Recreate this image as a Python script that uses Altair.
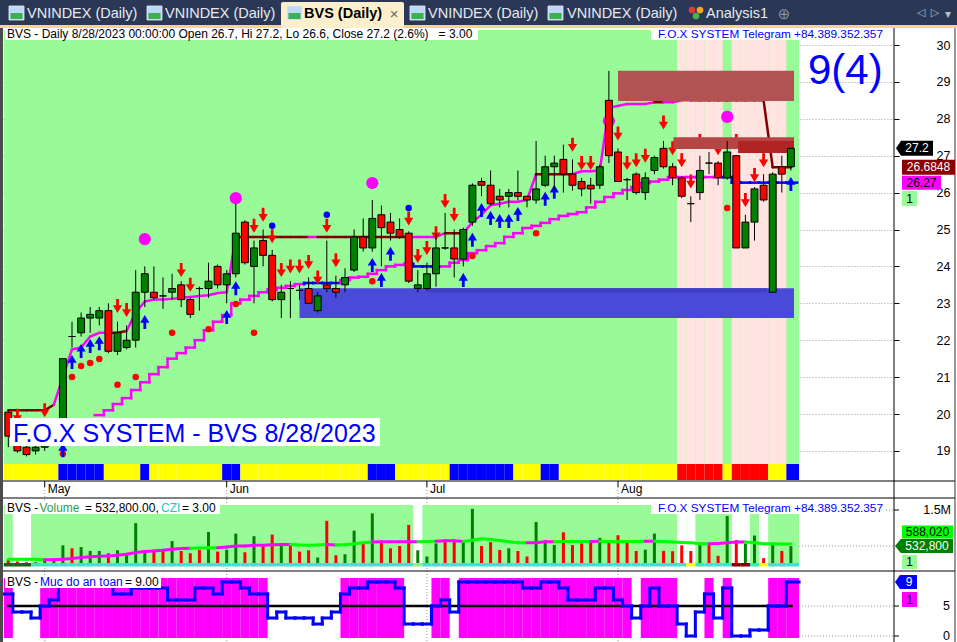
import altair as alt
import pandas as pd

FONT = "Liberation Sans"

# ---------------- daily OHLC of BVS (thousand VND) ----------------
OPEN = [20.05, 19.3, 19.1, 19.0, 19.1, 19.4, 19.6, 22.1, 22.2, 22.6,
        22.6, 22.8, 21.7, 21.8, 22.0, 23.3, 23.3, 23.2, 23.3, 23.5,
        23.1, 23.4, 23.4, 24.0, 23.5, 23.8, 25.2, 24.0, 24.7, 24.3,
        23.1, 23.4, 23.35, 23.4, 22.8, 23.5, 23.4, 23.5, 23.9, 24.8,
        24.5, 25.4, 25.2, 25.0, 24.9, 23.4, 23.4, 23.8, 24.5, 24.5,
        24.2, 25.2, 26.3, 26.2, 25.9, 25.9, 26.0, 25.9, 25.8, 26.2,
        26.7, 26.9, 26.5, 26.3, 26.2, 26.2, 28.5, 27.1, 26.35, 26.5,
        26.0, 26.6, 27.2, 26.7, 26.4, 25.7, 26.0, 26.8, 26.8, 26.4,
        27.0, 24.5, 25.2, 26.2, 23.3, 26.7, 26.7]
HIGH = [20.1, 19.5, 19.2, 19.2, 19.5, 19.6, 21.5, 22.5, 22.75, 22.9,
        22.9, 23.0, 22.5, 22.4, 23.9, 24.0, 24.0, 23.7, 23.8, 23.6,
        23.15, 23.45, 24.1, 24.05, 23.9, 25.7, 25.25, 24.7, 25.0, 24.45,
        23.5, 23.6, 23.5, 23.7, 23.3, 24.7, 23.75, 23.95, 25.0, 25.3,
        25.8, 25.65, 25.45, 25.3, 24.95, 23.9, 24.1, 24.9, 25.45, 25.0,
        25.05, 26.25, 26.4, 26.6, 26.1, 26.1, 26.6, 25.9, 27.4, 27.0,
        27.0, 27.3, 26.9, 26.4, 26.4, 26.75, 29.3, 27.2, 26.4, 26.55,
        26.55, 27.0, 27.4, 26.8, 26.45, 25.9, 27.0, 27.1, 26.85, 27.4,
        27.0, 25.4, 26.15, 26.5, 26.55, 27.0, 27.2]
LOW = [19.1, 18.95, 18.85, 18.9, 19.0, 19.3, 19.5, 21.8, 22.1, 22.2,
       22.4, 21.65, 21.6, 21.75, 21.8, 22.9, 23.1, 22.85, 23.1, 22.9,
       22.6, 22.8, 23.15, 23.4, 23.0, 23.7, 24.05, 23.0, 24.0, 23.05,
       22.6, 22.6, 23.1, 23.0, 22.75, 23.3, 23.15, 23.3, 23.85, 24.4,
       24.4, 24.0, 24.7, 24.75, 23.55, 23.3, 23.35, 23.45, 24.45, 23.7,
       24.0, 25.1, 25.9, 25.65, 25.6, 25.6, 25.8, 25.6, 25.7, 26.15,
       26.1, 26.0, 26.05, 25.9, 25.7, 26.1, 26.8, 26.3, 25.8, 25.95,
       25.8, 26.5, 26.65, 26.2, 25.85, 25.2, 25.8, 26.5, 26.2, 26.35,
       24.5, 24.5, 24.7, 25.75, 23.3, 26.0, 26.6]
CLOSE = [19.4, 19.0, 18.9, 19.1, 19.4, 19.5, 21.5, 22.1, 22.6, 22.7,
         22.8, 21.7, 22.2, 22.0, 23.3, 23.8, 23.15, 23.2, 23.4, 23.1,
         22.7, 23.4, 23.6, 23.5, 23.8, 24.9, 24.1, 24.5, 24.3, 23.1,
         23.3, 23.4, 23.35, 23.0, 23.2, 23.4, 23.3, 23.7, 24.8, 24.5,
         25.3, 25.05, 24.9, 24.8, 23.6, 23.5, 23.8, 24.5, 24.5, 24.2,
         25.0, 26.2, 26.2, 25.7, 25.8, 26.0, 25.9, 25.8, 26.1, 26.7,
         26.8, 26.5, 26.2, 26.1, 26.1, 26.7, 27.0, 26.3, 26.35, 26.0,
         26.4, 26.95, 26.7, 26.4, 25.9, 25.7, 26.6, 26.8, 26.4, 27.1,
         24.5, 25.2, 26.1, 25.8, 26.5, 26.5, 27.2]
N = len(CLOSE)
BAR = list(range(N))

MONTHS = ["May", "Jun", "Jul", "Aug"]
MONTH_FIRST_BAR = [4, 24, 46, 67]

# volume (thousand shares) and its moving average
VOLUME_K = [180, 120, 100, 100, 170, 180, 552, 474, 508, 403,
            403, 342, 421, 272, 1150, 421, 403, 403, 667, 403,
            342, 430, 912, 386, 438, 868, 368, 798, 535, 842,
            596, 535, 386, 421, 228, 1210, 289, 316, 947, 623,
            1410, 667, 474, 535, 1100, 421, 254, 605, 684, 667,
            623, 1530, 535, 640, 430, 474, 403, 254, 1180, 684,
            561, 903, 561, 605, 640, 754, 623, 824, 693, 403,
            438, 868, 403, 395, 552, 403, 640, 596, 272, 1340,
            693, 596, 816, 210, 579, 403, 532.8]
VOL_MA_K = [184, 184, 184, 184, 166, 166, 184, 203, 229, 245,
            263, 271, 289, 316, 361, 387, 403, 421, 447, 466,
            474, 482, 492, 492, 508, 534, 534, 553, 553, 571,
            579, 579, 561, 553, 561, 579, 561, 571, 597, 624,
            640, 650, 650, 650, 650, 650, 658, 666, 676, 676,
            658, 692, 729, 711, 684, 650, 624, 624, 624, 650,
            650, 658, 658, 658, 658, 666, 658, 650, 658, 658,
            666, 666, 658, 640, 632, 624, 597, 597, 605, 624,
            640, 640, 624, 597, 597, 590, 588.02]
VOL_MA_FALL_RUNS = [(4, 20), (23, 31), (35, 36), (40, 45), (47, 50),
                    (57, 60), (64, 65), (70, 71), (77, 81)]
VOL_GAP_BARS = [1, 2, 45, 74, 75, 80, 81, 83]
VOL_FOOT = {0: "#1E5E1E", 1: "#1E5E1E", 2: "#1E5E1E", 45: "#90EE90",
            75: "#FFFF00", 80: "#800000", 81: "#800000", 83: "#FFFF00"}

# "Muc do an toan" safety score 0..9
SAFETY = [7, 4, 4, 3, 5, 6, 9, 9, 9, 9,
          9, 9, 7, 7, 8, 8, 8, 8, 6, 6,
          6, 8, 8, 7, 9, 9, 8, 7, 7, 3,
          4, 3, 3, 3, 2, 3, 4, 7, 8, 8,
          9, 9, 9, 8, 2, 2, 2, 5, 6, 4,
          9, 9, 9, 9, 9, 9, 9, 8, 8, 9,
          9, 8, 6, 6, 6, 8, 8, 6, 5, 3,
          5, 8, 5, 5, 2, 0, 4, 7, 3, 8,
          0, 0, 1, 1, 5, 5, 9]

# trailing stop lines
UPPER_STOP = ([20.1] * 5 + [20.25, 21.0, 21.75, 21.8, 22.1, 22.2, 22.2, 22.2, 22.25, 22.75,
               23.05, 23.1, 23.1, 23.12, 23.15, 23.17, 23.2, 23.22, 23.28, 23.3]
              + [24.8] * 23 + [24.9] * 3
              + [25.2, 25.4, 25.66, 25.7, 25.75, 25.75, 25.8] + [26.5] * 5
              + [26.58, 26.58, 26.6, 28.3, 28.35] + [28.4] * 3 + [28.45] * 3
              + [28.5] * 10 + [26.6848] * 3)
UPPER_RED_RUNS = [(0, 5), (11, 13), (25, 33), (34, 44), (48, 50), (58, 62), (71, 72), (75, 86)]
LOWER_START = 10
LOWER_STOP = [19.97, 20.1, 20.27, 20.43, 20.65, 20.86, 21.08, 21.27, 21.5, 21.65,
              21.8, 22.0, 22.27, 22.5, 22.68, 23.0, 23.1, 23.2, 23.3, 23.37,
              23.42, 23.47, 23.52, 23.55, 23.55, 23.55, 23.55, 23.63, 23.7, 23.72,
              23.8, 23.9, 24.0, 24.04, 24.07, 24.0, 24.0, 24.0, 24.0, 24.1,
              24.17, 24.36, 24.44, 24.55, 24.63, 24.8, 24.9, 25.04, 25.1, 25.18,
              25.28, 25.37, 25.42, 25.47, 25.6, 25.75, 25.88, 25.98, 26.07, 26.15,
              26.26, 26.3, 26.35, 26.42, 26.42, 26.42, 26.42, 26.42, 26.42, 26.42,
              26.27, 26.27, 26.27, 26.27, 26.27, 26.27, 26.27]
LOWER_BLUE_RUNS = [(33, 36), (45, 47), (79, 86)]

# signals
SELL_BARS = [1, 4, 12, 13, 19, 20, 27, 28, 29, 30, 31, 32, 33, 34, 35, 36, 44, 45, 46, 47,
             48, 49, 62, 63, 64, 67, 68, 69, 70, 72, 73, 74, 75, 76, 78, 80, 81, 82, 83]
SELL_LVL = [19.95, 20.1, 22.93, 22.82, 23.9, 23.5, 25.1, 25.4, 24.82, 23.9, 24.0, 24.0, 24.12,
            23.7, 25.1, 24.17, 25.3, 24.28, 24.5, 24.9, 25.77, 25.4, 27.3, 26.8, 26.8, 27.6,
            26.8, 26.88, 27.0, 27.9, 27.2, 26.88, 26.3, 27.4, 27.2, 27.4, 25.8, 26.48, 26.88]
BUY_BARS = [6, 7, 8, 9, 10, 15, 24, 25, 40, 41, 42, 50, 51, 52, 53, 54, 55, 56, 59, 60, 86]
BUY_LVL = [19.02, 21.41, 21.71, 21.84, 21.92, 22.49, 22.63, 23.41, 24.04, 23.63, 24.34,
           23.63, 24.72, 25.53, 25.31, 25.23, 25.23, 25.42, 25.83, 26.02, 26.23]
RED_DOT_BARS = [6, 7, 8, 9, 10, 12, 14, 18, 22, 25, 27, 40, 51, 58, 79]
RED_DOT_LVL = [18.92, 21.0, 21.3, 21.38, 21.49, 20.79, 21.0, 22.2, 22.3, 22.98, 22.2,
               23.6, 24.28, 24.9, 25.58]
BLUE_DOT_BARS = [29, 35, 44]
BLUE_DOT_LVL = [25.1, 25.4, 25.58]
PEAK_BARS = [15, 25, 40, 66, 79]
PEAK_LVL = [24.74, 25.85, 26.26, 27.94, 28.05]

# zones
SUPPORT_ZONE = dict(start=32, end=86.34, lo=22.6, hi=23.41)
SUPPORT_EDGE = dict(start=46, end=83.4, lo=23.29, hi=23.41)
RESIST_START = [67.0, 73.1, 80.2]
RESIST_END = [86.34, 86.34, 86.34]
RESIST_LO = [28.48, 27.18, 27.07]
RESIST_HI = [29.3, 27.5, 27.4]
RESIST_COLOR = ["#B25252", "#B54646", "#B02424"]

PINK_BARS = [74, 75, 76, 77, 78, 80, 81, 82, 83, 84, 85]
STRIP_RUNS = [("Y", 6), ("B", 5), ("Y", 4), ("B", 1), ("Y", 8), ("B", 2), ("Y", 14), ("B", 3),
              ("Y", 6), ("B", 7), ("Y", 3), ("B", 2), ("Y", 13), ("R", 5), ("Y", 1), ("R", 4),
              ("Y", 2), ("B", 1)]
STRIP_COLORS = {"Y": "#FFFF00", "B": "#0000FF", "R": "#FF0000"}

TAB_TITLES = ["VNINDEX (Daily)", "VNINDEX (Daily)", "BVS (Daily)", "VNINDEX (Daily)",
              "VNINDEX (Daily)", "Analysis1"]
HEADER = ("BVS - Daily 8/28/2023 00:00:00 Open 26.7, Hi 27.2, Lo 26.6, Close 27.2 (2.6%)"
          "\u00a0\u00a0\u00a0= 3.00")
BRAND = "F.O.X SYSTEM Telegram +84.389.352.357"
STAMP = "F.O.X SYSTEM - BVS 8/28/2023"
WAVE = "9(4)"

# ---------------- colours ----------------
GREEN_BG = "#98FB98"
PINK_BG = "#FFE4E1"
UP = "#008000"
DN = "#FF0000"
MAGENTA = "#FF00FF"
MAROON = "#800000"
BLUE = "#0000FF"
LIME = "#00FF00"

# ---------------- layout / scales ----------------
W_PLOT, H_PLOT = 894, 642
BAR_X0, BAR_STEP = 8.3, 9.1
LAST_EDGE = 86.9
XS = alt.Scale(domain=[-BAR_X0 / BAR_STEP, (W_PLOT - BAR_X0) / BAR_STEP],
               range=[0, W_PLOT], nice=False, zero=False)
PS = alt.Scale(domain=[19, 30], range=[450.9, 45], nice=False, zero=False)
VS = alt.Scale(domain=[0, 1500], range=[566, 510], nice=False, zero=False)
SS = alt.Scale(domain=[0, 9], range=[636, 582], nice=False, zero=False)

ONE = pd.DataFrame({"k": [0]})


def X(f):
    return alt.X(f"{f}:Q", scale=XS, axis=None)


def X2(f):
    return alt.X2(f"{f}:Q")


def Y(f, sc):
    return alt.Y(f"{f}:Q", scale=sc, axis=None)


def Y2(f):
    return alt.Y2(f"{f}:Q")


def C(f):
    return alt.Color(f"{f}:N", scale=None, legend=None)


def px_rect(x0, x1, y0, y1, fill, **kw):
    return alt.Chart(ONE).mark_rect(color=fill, **kw).encode(
        x=alt.value(x0), x2=alt.value(x1), y=alt.value(y0), y2=alt.value(y1))


def px_rule(x0, x1, y0, y1, color="black", width=1, dash=None):
    kw = dict(color=color, strokeWidth=width)
    if dash:
        kw["strokeDash"] = dash
    return alt.Chart(ONE).mark_rule(**kw).encode(
        x=alt.value(x0), x2=alt.value(x1), y=alt.value(y0), y2=alt.value(y1))


def px_text(x, y, s, size=12, color="black", align="left", baseline="alphabetic",
            weight="normal", font=FONT):
    return alt.Chart(ONE).mark_text(align=align, baseline=baseline, fontSize=size,
                                    color=color, fontWeight=weight, font=font).encode(
        x=alt.value(x), y=alt.value(y), text=alt.value(s))


def px_dot(x, y, color, size=45):
    return alt.Chart(ONE).mark_point(shape="circle", size=size, filled=True, color=color,
                                     opacity=1, strokeWidth=0).encode(
        x=alt.value(x), y=alt.value(y))


def bar_band(bars, y0, y1, colors=None, fill=None, last_edge=None):
    rows = []
    for k, b in enumerate(bars):
        right = b + 0.5
        if last_edge is not None and b == N - 1:
            right = last_edge
        rows.append(dict(xa=b - 0.5, xb=right, col=(colors[k] if colors else fill)))
    return alt.Chart(pd.DataFrame(rows)).mark_rect().encode(
        x=X("xa"), x2=X2("xb"), y=alt.value(y0), y2=alt.value(y1), color=C("col"))


def segments(rows, sc, width, cap="round"):
    return alt.Chart(pd.DataFrame(rows)).mark_rule(strokeWidth=width, strokeCap=cap).encode(
        x=X("xa"), x2=X2("xb"), y=Y("ya", sc), y2=Y2("yb"), color=C("col"))


def in_runs(a, b, runs):
    return any(s <= a and b <= e for s, e in runs)


def tag_shape(w, h, notch=0.0):
    r = h / w
    left = -1 + notch
    if notch:
        return f"M-1,0L{left:.3f},{-r:.3f}L1,{-r:.3f}L1,{r:.3f}L{left:.3f},{r:.3f}Z"
    return f"M-1,{-r:.3f}L1,{-r:.3f}L1,{r:.3f}L-1,{r:.3f}Z"


def value_tag(value, sc, cx, w, h, fill, text, tcolor, notch=0.0, tx=None):
    df = pd.DataFrame({"lbl": [text], "v": [value]})
    box = alt.Chart(df).mark_point(shape=tag_shape(w, h, notch), size=w * w, filled=True,
                                   color=fill, opacity=1, strokeWidth=0).encode(
        x=alt.value(cx), y=Y("v", sc))
    txt = alt.Chart(df).mark_text(align="center", baseline="middle", font=FONT, fontSize=12,
                                  color=tcolor).encode(
        x=alt.value(tx if tx is not None else cx), y=Y("v", sc), text="lbl:N")
    return [box, txt]


def pixel_tag(py, cx, w, h, fill, text, tcolor):
    df = pd.DataFrame({"lbl": [text]})
    box = alt.Chart(df).mark_point(shape=tag_shape(w, h), size=w * w, filled=True,
                                   color=fill, opacity=1, strokeWidth=0).encode(
        x=alt.value(cx), y=alt.value(py))
    txt = alt.Chart(df).mark_text(align="center", baseline="middle", font=FONT, fontSize=12,
                                  color=tcolor).encode(
        x=alt.value(cx), y=alt.value(py), text="lbl:N")
    return [box, txt]


DOWN_ARROW = "M-0.2,-1L0.2,-1L0.2,-0.1L0.66,-0.1L0,1L-0.66,-0.1L-0.2,-0.1Z"
UP_ARROW = "M-0.2,1L0.2,1L0.2,0.1L0.66,0.1L0,-1L-0.66,0.1L-0.2,0.1Z"

layers = []

# ---------- faint grids ----------
layers.append(alt.Chart(pd.DataFrame({"b": MONTH_FIRST_BAR})).mark_rule(
    color="#9A9A9A", strokeDash=[1, 2]).encode(x=X("b"), y=alt.value(487), y2=alt.value(642)))
layers.append(alt.Chart(pd.DataFrame({"v": [1500, VOLUME_K[-1]]})).mark_rule(
    color="#9A9A9A", strokeDash=[1, 2]).encode(x=alt.value(799), x2=alt.value(893), y=Y("v", VS)))
layers.append(alt.Chart(pd.DataFrame({"v": [0, 5]})).mark_rule(
    color="#9A9A9A", strokeDash=[1, 2]).encode(x=alt.value(799), x2=alt.value(893), y=Y("v", SS)))

# ---------- price panel backgrounds ----------
layers.append(alt.Chart(pd.DataFrame({"xa": [-0.5], "xb": [LAST_EDGE]})).mark_rect(
    color=GREEN_BG).encode(x=X("xa"), x2=X2("xb"), y=alt.value(30), y2=alt.value(464)))
layers.append(bar_band(PINK_BARS, 30, 464, fill=PINK_BG))
strip_cols = []
for code, n in STRIP_RUNS:
    strip_cols += [STRIP_COLORS[code]] * n
layers.append(bar_band(BAR, 464, 480, colors=strip_cols, last_edge=LAST_EDGE))

# ---------- volume panel backgrounds ----------
layers.append(alt.Chart(pd.DataFrame({"xa": [-0.5], "xb": [LAST_EDGE]})).mark_rect(
    color=GREEN_BG).encode(x=X("xa"), x2=X2("xb"), y=alt.value(505), y2=alt.value(563)))
layers.append(bar_band(VOL_GAP_BARS, 505, 563, fill="#FFFFFF"))

# ---------- safety panel background ----------
safe_bars = [i for i in BAR if SAFETY[i] >= 5]
layers.append(bar_band(safe_bars, 578, 638, fill=MAGENTA, last_edge=LAST_EDGE))

# ---------- trailing stops ----------
up_rows = []
for i in range(N - 1):
    up_rows.append(dict(xa=i, xb=i + 1, ya=UPPER_STOP[i], yb=UPPER_STOP[i + 1],
                        col=MAROON if in_runs(i, i + 1, UPPER_RED_RUNS) else MAGENTA))
layers.append(segments(up_rows, PS, 2.5))

lo_rows = []
for k, v in enumerate(LOWER_STOP):
    i = LOWER_START + k
    col = BLUE if in_runs(i, i, LOWER_BLUE_RUNS) else MAGENTA
    right = i + 0.5 if i < N - 1 else 86.7
    lo_rows.append(dict(xa=i - 0.5, xb=right, ya=v, yb=v, col=col))
    if i < N - 1:
        col2 = BLUE if in_runs(i + 1, i + 1, LOWER_BLUE_RUNS) else MAGENTA
        lo_rows.append(dict(xa=i + 0.5, xb=i + 0.5, ya=v, yb=LOWER_STOP[k + 1], col=col2))
layers.append(segments(lo_rows, PS, 2.5, cap="square"))

# ---------- signal markers ----------
layers.append(alt.Chart(pd.DataFrame({"i": PEAK_BARS, "v": PEAK_LVL})).mark_point(
    shape="circle", size=150, filled=True, color=MAGENTA, opacity=1, strokeWidth=0).encode(
    x=X("i"), y=Y("v", PS)))
layers.append(alt.Chart(pd.DataFrame({"i": RED_DOT_BARS, "v": RED_DOT_LVL})).mark_point(
    shape="circle", size=42, filled=True, color=DN, opacity=1, strokeWidth=0).encode(
    x=X("i"), y=Y("v", PS)))
layers.append(alt.Chart(pd.DataFrame({"i": BLUE_DOT_BARS, "v": BLUE_DOT_LVL})).mark_point(
    shape="circle", size=42, filled=True, color=BLUE, opacity=1, strokeWidth=0).encode(
    x=X("i"), y=Y("v", PS)))
layers.append(alt.Chart(pd.DataFrame({"i": SELL_BARS, "v": SELL_LVL})).mark_point(
    shape=DOWN_ARROW, size=196, filled=True, color=DN, opacity=1, strokeWidth=0).encode(
    x=X("i"), y=Y("v", PS)))
layers.append(alt.Chart(pd.DataFrame({"i": BUY_BARS, "v": BUY_LVL})).mark_point(
    shape=UP_ARROW, size=196, filled=True, color=BLUE, opacity=1, strokeWidth=0).encode(
    x=X("i"), y=Y("v", PS)))

# ---------- zones ----------
zone_rows = [dict(xa=SUPPORT_ZONE["start"], xb=SUPPORT_ZONE["end"], ya=SUPPORT_ZONE["lo"],
                  yb=SUPPORT_ZONE["hi"], col="#4A4AD8"),
             dict(xa=SUPPORT_EDGE["start"], xb=SUPPORT_EDGE["end"], ya=SUPPORT_EDGE["lo"],
                  yb=SUPPORT_EDGE["hi"], col="#3F3FC4")]
for s, e, lo, hi, c in zip(RESIST_START, RESIST_END, RESIST_LO, RESIST_HI, RESIST_COLOR):
    zone_rows.append(dict(xa=s, xb=e, ya=lo, yb=hi, col=c))
layers.append(alt.Chart(pd.DataFrame(zone_rows)).mark_rect().encode(
    x=X("xa"), x2=X2("xb"), y=Y("ya", PS), y2=Y2("yb"), color=C("col")))

# ---------- candles ----------
cdf = pd.DataFrame({"i": BAR, "o": OPEN, "h": HIGH, "l": LOW, "c": CLOSE})
cdf["xa"] = cdf["i"] - 0.38
cdf["xb"] = cdf["i"] + 0.38
cdf["col"] = [UP if c > o else (DN if c < o else "#000000") for o, c in zip(OPEN, CLOSE)]
price_axis = alt.Axis(orient="right", values=list(range(19, 31)), title="", domain=False,
                      tickSize=5, tickColor="black", tickWidth=1, labelAlign="right",
                      labelPadding=51, labelFont=FONT, labelFontSize=12.5, labelColor="black",
                      labelBaseline="middle", labelOverlap=False, grid=True,
                      gridColor="#9A9A9A", gridDash=[1, 2], gridWidth=1)
layers.append(alt.Chart(cdf).mark_rule(color="black", strokeWidth=1).encode(
    x=X("i"), y=alt.Y("l:Q", scale=PS, axis=price_axis), y2=Y2("h")))
layers.append(alt.Chart(cdf).mark_rect(stroke="black", strokeWidth=1).encode(
    x=X("xa"), x2=X2("xb"), y=Y("o", PS), y2=Y2("c"), color=C("col")))

# ---------- volume ----------
vdf = pd.DataFrame({"i": BAR, "v": VOLUME_K, "base": 0.0})
vdf["col"] = [UP if c > o else DN for o, c in zip(OPEN, CLOSE)]
layers.append(alt.Chart(vdf).mark_rule(strokeWidth=3).encode(
    x=X("i"), y=Y("base", VS), y2=Y2("v"), color=C("col")))
ma_rows = []
for i in range(N - 1):
    ma_rows.append(dict(xa=i, xb=i + 1, ya=VOL_MA_K[i], yb=VOL_MA_K[i + 1],
                        col=MAGENTA if in_runs(i, i + 1, VOL_MA_FALL_RUNS) else LIME))
layers.append(segments(ma_rows, VS, 3))
foot_cols = [VOL_FOOT.get(i, "#40E0D0") for i in BAR]
layers.append(bar_band(BAR, 563, 566.5, colors=foot_cols, last_edge=LAST_EDGE))

# ---------- safety line ----------
layers.append(alt.Chart(pd.DataFrame({"xa": [-0.15], "xb": [86.2], "v": [5]})).mark_rule(
    color="black", strokeWidth=2.5).encode(x=X("xa"), x2=X2("xb"), y=Y("v", SS)))
sf_rows = []
for i, v in enumerate(SAFETY):
    left = i - 0.5
    right = LAST_EDGE if i == N - 1 else i + 0.5
    sf_rows.append(dict(xa=left, xb=right, ya=v, yb=v, col=BLUE))
    if i < N - 1:
        sf_rows.append(dict(xa=i + 0.5, xb=i + 0.5, ya=v, yb=SAFETY[i + 1], col=BLUE))
layers.append(segments(sf_rows, SS, 3, cap="square"))

# ---------- captions inside the panels ----------
layers.append(px_rect(5, 478, 28, 40, "#FFFFFF"))
layers.append(px_text(7, 38, HEADER, size=12))
layers.append(px_rect(651, 886, 28, 40, "#FFFFFF"))
layers.append(px_text(883, 38, BRAND, size=11.8, color=BLUE, align="right"))
layers.append(px_text(808, 84, WAVE, size=42, color=BLUE))
layers.append(px_rect(10, 380, 418, 446, "#FFFFFF"))
layers.append(px_text(13, 442, STAMP, size=25, color=BLUE))

layers.append(px_rect(5, 220, 502, 514, "#FFFFFF"))
layers.append(px_text(7, 512, "BVS - ", size=12))
layers.append(px_text(39.5, 512, "Volume", size=12, color="#2E9E4A"))
layers.append(px_text(85, 512, "= 532,800.00,", size=12))
layers.append(px_text(161, 512, "CZI", size=12, color="#22C7C7"))
layers.append(px_text(182, 512, "= 3.00", size=12))
layers.append(px_rect(651, 886, 502, 514, "#FFFFFF"))
layers.append(px_text(883, 512, BRAND, size=11.8, color=BLUE, align="right"))

layers.append(px_rect(5, 161, 576, 588, "#FFFFFF"))
layers.append(px_text(7, 586, "BVS - ", size=12))
layers.append(px_text(40, 586, "Muc do an toan", size=12, color=BLUE))
layers.append(px_text(125, 586, "= 9.00", size=12))

# ---------- date strip ----------
mdf = pd.DataFrame({"b": MONTH_FIRST_BAR, "m": MONTHS})
layers.append(alt.Chart(mdf).mark_rule(color="black").encode(
    x=X("b"), y=alt.value(481), y2=alt.value(487)))
layers.append(alt.Chart(mdf).mark_text(align="left", baseline="alphabetic", font=FONT,
                                       fontSize=12, dx=3, color="black").encode(
    x=X("b"), y=alt.value(493), text="m:N"))

# ---------- frame ----------
layers.append(px_rect(0, 3, 27, 642, "#4B4B4B"))
layers.append(px_rule(3, 955, 481, 481))
layers.append(px_rule(3, 955, 498, 498))
layers.append(px_rule(3, 955, 571, 571))
layers.append(px_rule(894, 894, 28, 642))
layers.append(px_rule(955, 955, 28, 642, color="#333333"))

# ---------- right-hand scales of lower panels ----------
layers.append(alt.Chart(pd.DataFrame({"v": [1500]})).mark_rule(color="black").encode(
    x=alt.value(894), x2=alt.value(899), y=Y("v", VS)))
layers.append(alt.Chart(pd.DataFrame({"v": [1500], "t": ["1.5M"]})).mark_text(
    align="right", baseline="middle", font=FONT, fontSize=12.5, color="black").encode(
    x=alt.value(951), y=Y("v", VS), text="t:N"))
layers.append(alt.Chart(pd.DataFrame({"v": [0, 5]})).mark_rule(color="black").encode(
    x=alt.value(894), x2=alt.value(899), y=Y("v", SS)))
layers.append(alt.Chart(pd.DataFrame({"v": [0, 5], "t": ["0", "5"]})).mark_text(
    align="right", baseline="middle", font=FONT, fontSize=12.5, color="black").encode(
    x=alt.value(950), y=Y("v", SS), text="t:N"))

# ---------- value tags ----------
layers += value_tag(UPPER_STOP[-1], PS, 928.5, 53, 15, "#8B0000", f"{UPPER_STOP[-1]:g}", "white")
layers += value_tag(LOWER_STOP[-1], PS, 921.5, 39, 14, MAGENTA, f"{LOWER_STOP[-1]:g}", "black")
layers += value_tag(CLOSE[-1], PS, 914.5, 37, 15, "black", f"{CLOSE[-1]:g}", "white",
                    notch=0.27, tx=917)
layers += pixel_tag(198.5, 909.5, 15, 15, GREEN_BG, "1", "black")

layers += pixel_tag(532, 927.5, 51, 13, LIME, f"{round(VOL_MA_K[-1] * 1000):,}", "black")
layers += value_tag(VOLUME_K[-1], VS, 924, 58, 14, UP, f"{round(VOLUME_K[-1] * 1000):,}",
                    "white", notch=0.2, tx=927)
layers += pixel_tag(562, 909.5, 15, 14, GREEN_BG, "1", "black")

layers += value_tag(SAFETY[-1], SS, 906, 22, 14, BLUE, f"{SAFETY[-1]}", "white",
                    notch=0.45, tx=909)
layers += pixel_tag(599.5, 909.5, 15, 15, MAGENTA, "1", "black")

# ---------- window tab strip ----------
layers.append(px_rect(0, 957, 0, 27, "#2B3855"))
layers.append(px_rect(0, 957, 25, 28, "#F3D592"))
layers.append(px_rect(281, 404, 2, 28, "#FCF0CC", cornerRadius=2))
tab_text_x = [27, 165, 304, 428, 567, 706]
tab_icon_x = [9, 147, 287, 410, 548]
for ix in tab_icon_x:
    layers.append(px_rect(ix, ix + 15, 6, 20, "#BCD8F4", stroke="#E8EEF6", strokeWidth=0.8))
    layers.append(px_rect(ix + 1.5, ix + 13.5, 13, 19, "#3CAF4E"))
for k, (tx, title) in enumerate(zip(tab_text_x, TAB_TITLES)):
    active = (k == 2)
    layers.append(px_text(tx, 14, title, size=14.5, baseline="middle",
                          color="black" if active else "#E6EAF1",
                          weight="bold" if active else "normal"))
layers.append(px_text(394, 14, "\u00d7", size=15, align="center", baseline="middle",
                      color="#666666"))
layers.append(px_dot(692, 10, "#E53935"))
layers.append(px_dot(700, 10, "#F5A623"))
layers.append(px_dot(696, 16, "#43B649"))
layers.append(px_text(784, 14, "\u2295", size=15, align="center", baseline="middle",
                      color="#8A93A5", font="DejaVu Sans"))
layers.append(px_text(921, 13, "\u25c1", size=11, align="center", baseline="middle",
                      color="#B8BFCC", font="DejaVu Sans"))
layers.append(px_text(935, 13, "\u25b7", size=11, align="center", baseline="middle",
                      color="#B8BFCC", font="DejaVu Sans"))
layers.append(px_text(948, 14, "\u25be", size=12, align="center", baseline="middle",
                      color="#B8BFCC", font="DejaVu Sans"))

chart = alt.layer(*layers).resolve_scale(y="independent", color="independent").properties(
    width=W_PLOT, height=H_PLOT,
    autosize=alt.AutoSizeParams(type="none"),
    padding={"left": 0, "top": 0, "right": 957 - W_PLOT, "bottom": 0},
).configure_view(stroke="transparent")

chart.save("out.html", embed_options={"renderer": "svg", "actions": False})
